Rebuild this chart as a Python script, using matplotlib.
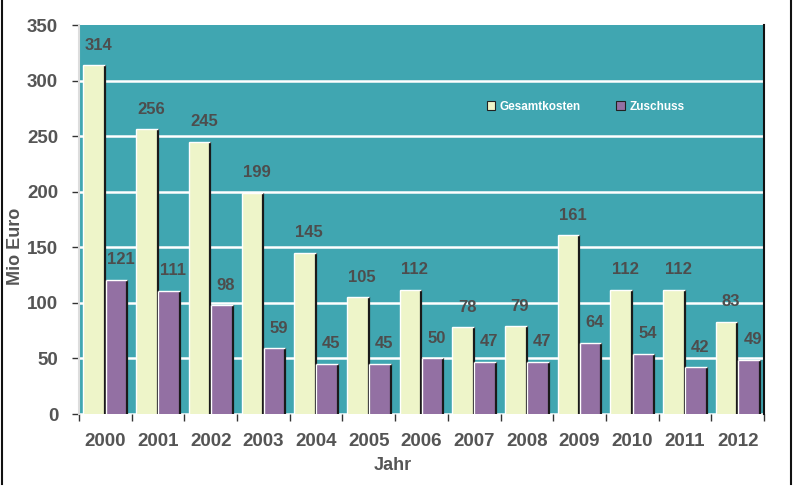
import matplotlib
matplotlib.use("Agg")
import matplotlib.pyplot as plt
import numpy as np
from matplotlib import patheffects as pe
from matplotlib.lines import Line2D

years = ["2000", "2001", "2002", "2003", "2004", "2005", "2006",
         "2007", "2008", "2009", "2010", "2011", "2012"]
gesamtkosten = [314, 256, 245, 199, 145, 105, 112, 78, 79, 161, 112, 112, 83]
zuschuss = [121, 111, 98, 59, 45, 45, 50, 47, 47, 64, 54, 42, 49]
series_names = ["Gesamtkosten", "Zuschuss"]
y_label = "Mio Euro"
x_label = "Jahr"

plt.rcParams['font.family'] = ['Liberation Sans', 'DejaVu Sans']

fig = plt.figure(figsize=(7.96, 4.86), dpi=100)
ax = fig.add_axes([79/796, 1-414/486, 685/796, 389/486])
ax.set_facecolor('#40a6b1')

x = np.arange(len(years))
w = 0.41
b1 = ax.bar(x - 0.21, gesamtkosten, w, color='#eef5c9', edgecolor='none', zorder=3,
            label=series_names[0])
b2 = ax.bar(x + 0.21, zuschuss, w, color='#9370a3', edgecolor='none', zorder=3,
            label=series_names[1])

for bars in (b1, b2):
    for r in bars:
        x0, x1, h = r.get_x(), r.get_x() + r.get_width(), r.get_height()
        ax.plot([x1, x1], [0, h], color='#1a1a1a', lw=1.6, zorder=4, solid_capstyle='butt')
        ax.plot([x0, x0], [0, h], color='white', lw=1.0, zorder=4, solid_capstyle='butt')
        ax.plot([x0, x1], [h, h], color='white', lw=1.0, zorder=4, solid_capstyle='butt')

for bars, vals in ((b1, gesamtkosten), (b2, zuschuss)):
    for r, v in zip(bars, vals):
        ax.annotate(str(v), (r.get_x() + r.get_width()/2, r.get_height()),
                    xytext=(3, 9), textcoords='offset points', ha='center', va='bottom',
                    fontsize=12, fontweight='bold', color='#4d4d4d', zorder=5)

ax.set_ylim(0, 350)
ax.set_yticks(range(0, 351, 50))
ax.set_xlim(-0.5, len(years) - 0.5)
ax.yaxis.grid(True, color='white', lw=1.8, zorder=1)
ax.set_axisbelow(True)

ax.set_xticks(x)
ax.set_xticklabels(years)
ax.set_xticks(np.arange(-0.5, len(years), 1.0), minor=True)
ax.tick_params(axis='x', which='major', length=0, pad=14, labelsize=13.5)
ax.tick_params(axis='x', which='minor', length=5, width=1, color='#333333', direction='out')
ax.tick_params(axis='y', length=5, width=1, color='#333333', direction='out', pad=10, labelsize=13.5)
for lab in ax.get_xticklabels() + ax.get_yticklabels():
    lab.set_fontweight('bold')
    lab.set_color('#555555')
gl = ax.get_ygridlines()
gl[-1].set_visible(False)

for s in ('top', 'bottom'):
    ax.spines[s].set_visible(False)
ax.spines['left'].set_color('#dddddd')
ax.spines['left'].set_linewidth(1.5)
ax.spines['right'].set_color('#111111')
ax.spines['right'].set_linewidth(1.5)

ax.set_ylabel(y_label, fontsize=13, fontweight='bold', color='#555555')
ax.yaxis.set_label_coords(-0.08, 0.43)
ax.set_xlabel(x_label, fontsize=13, fontweight='bold', color='#555555')
ax.xaxis.set_label_coords(0.458, -0.11)

leg = ax.legend(loc='center left', bbox_to_anchor=(0.58, 0.79), ncol=2, frameon=False,
                fontsize=8.5, handlelength=0.7, handleheight=0.7, columnspacing=3.0,
                handletextpad=0.4)
for t in leg.get_texts():
    t.set_color('white')
    t.set_fontweight('bold')
for h in leg.legend_handles:
    h.set_edgecolor('#222222')
    h.set_linewidth(0.8)

fig.add_artist(Line2D([0.002, 0.002], [0.005, 1.0], color='#111111', lw=1.5, transform=fig.transFigure))
fig.add_artist(Line2D([0.994, 0.994], [0.005, 1.0], color='#111111', lw=1.5, transform=fig.transFigure))

fig.savefig('out.png', dpi=100)
